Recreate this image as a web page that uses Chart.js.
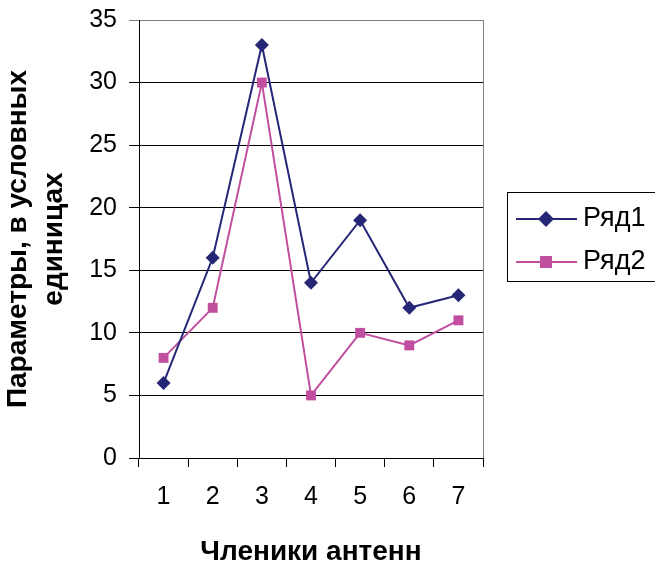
<!DOCTYPE html>
<html><head><meta charset="utf-8">
<script src="https://cdn.jsdelivr.net/npm/chart.js@4/dist/chart.umd.min.js"></script>
<style>html,body{margin:0;padding:0;background:#fff;}canvas{display:block;}</style>
</head><body>
<canvas id="c" width="655" height="563"></canvas>
<script>
const categories = ['1','2','3','4','5','6','7'];
const series1 = [6, 16, 33, 14, 19, 12, 13];
const series2 = [8, 12, 30, 5, 10, 9, 11];
const seriesNames = ['Ряд1', 'Ряд2'];
const yTitle = ['Параметры, в условных', 'единицах'];
const xTitle = 'Членики антенн';
const NAVY = '#262676';
const PINK = '#C04FA0';
const FONT = "'Liberation Sans', Arial, sans-serif";

const legendPlugin = {
  id: 'customLegend',
  afterDraw(chart) {
    const ctx = chart.ctx;
    const a = chart.chartArea;
    ctx.save();
    ctx.strokeStyle = '#808080';
    ctx.lineWidth = 1;
    ctx.beginPath();
    ctx.moveTo(a.right + 0.5, a.top);
    ctx.lineTo(a.right + 0.5, a.bottom);
    ctx.stroke();
    ctx.strokeStyle = '#000';
    ctx.strokeRect(507.5, 192.5, 160, 89);
    const ys = [219, 262];
    chart.data.datasets.forEach((ds, i) => {
      const y = ys[i];
      ctx.strokeStyle = ds.borderColor;
      ctx.lineWidth = 2;
      ctx.beginPath();
      ctx.moveTo(516, y);
      ctx.lineTo(577, y);
      ctx.stroke();
      ctx.fillStyle = ds.pointBackgroundColor;
      if (ds.pointStyle === 'rectRot') {
        ctx.beginPath();
        ctx.moveTo(546, y - 8);
        ctx.lineTo(554, y);
        ctx.lineTo(546, y + 8);
        ctx.lineTo(538, y);
        ctx.closePath();
        ctx.fill();
      } else {
        ctx.fillRect(540, y - 6, 12, 12);
      }
      ctx.fillStyle = '#000';
      ctx.font = '27px ' + FONT;
      ctx.textBaseline = 'middle';
      ctx.textAlign = 'left';
      ctx.fillText(ds.label, 583, y);
    });
    ctx.restore();
  }
};

new Chart(document.getElementById('c'), {
  type: 'line',
  data: {
    labels: categories,
    datasets: [
      { label: seriesNames[0], data: series1, borderColor: NAVY, backgroundColor: NAVY,
        pointBackgroundColor: NAVY, pointBorderColor: NAVY, pointStyle: 'rectRot',
        pointRadius: 7, pointBorderWidth: 0, borderWidth: 2, tension: 0 },
      { label: seriesNames[1], data: series2, borderColor: PINK, backgroundColor: PINK,
        pointBackgroundColor: PINK, pointBorderColor: PINK, pointStyle: 'rect',
        pointRadius: 7, pointBorderWidth: 0, borderWidth: 2, tension: 0 }
    ]
  },
  options: {
    responsive: false,
    animation: false,
    devicePixelRatio: 1,
    layout: { padding: { top: 20, right: 172, left: 0, bottom: 0 } },
    plugins: { legend: { display: false }, tooltip: { enabled: false } },
    scales: {
      x: {
        offset: true,
        grid: { offset: true, drawOnChartArea: false, color: '#000', tickLength: 9, lineWidth: 1 },
        border: { color: '#000', width: 1 },
        ticks: { color: '#000', font: { family: FONT, size: 25 }, padding: 15, maxRotation: 0 },
        title: { display: true, text: xTitle, color: '#000', font: { family: FONT, size: 28, weight: 'bold', lineHeight: 0.8 }, padding: 0 },
        afterFit(scale) { scale.height = 105; scale.paddingLeft = 0; scale.paddingRight = 0; }
      },
      y: {
        min: 0, max: 35,
        ticks: { stepSize: 5, color: '#000', font: { family: FONT, size: 25 }, padding: 12 },
        grid: { color: (c) => c.tick && c.tick.value === 35 ? '#808080' : '#000', tickLength: 10, lineWidth: 1 },
        border: { color: '#000', width: 1 },
        title: { display: true, text: yTitle, color: '#000', font: { family: FONT, size: 28, weight: 'bold', lineHeight: 1.29 }, padding: 0 },
        afterFit(scale) { scale.width = 139; scale.paddingTop = 0; scale.paddingBottom = 0; }
      }
    }
  },
  plugins: [legendPlugin]
});
</script>
</body></html>
